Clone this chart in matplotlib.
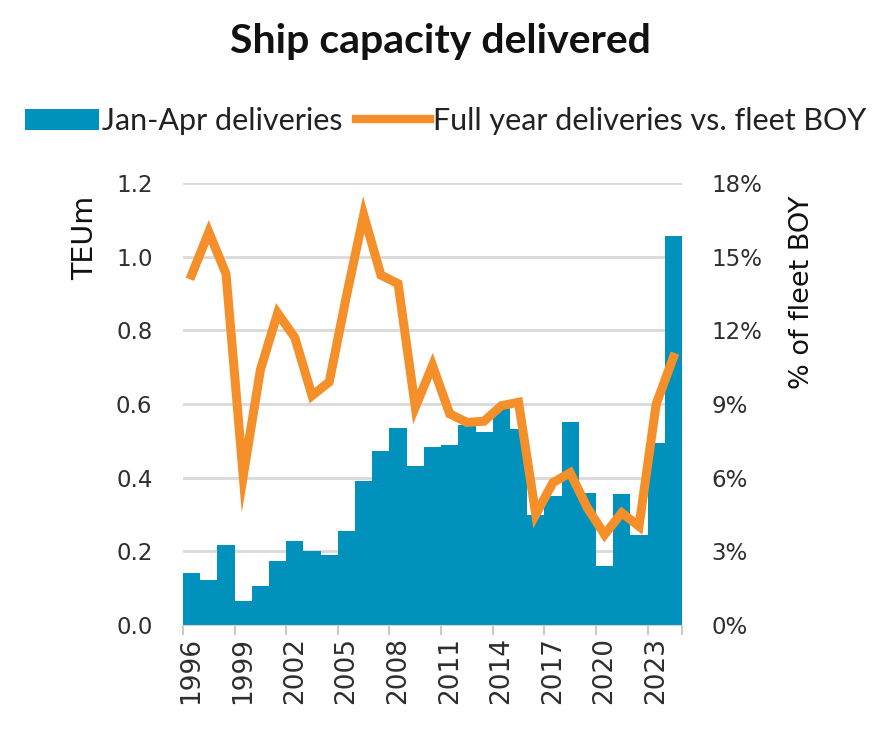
import matplotlib
matplotlib.use("Agg")
import matplotlib.pyplot as plt
from matplotlib import font_manager
from matplotlib.patches import Patch
from matplotlib.lines import Line2D

# data
years = list(range(1996, 2025))
jan_apr = [0.141, 0.123, 0.218, 0.064, 0.105, 0.173, 0.229, 0.200, 0.191, 0.255,
           0.391, 0.473, 0.536, 0.432, 0.484, 0.489, 0.544, 0.523, 0.591, 0.532,
           0.300, 0.350, 0.550, 0.359, 0.159, 0.355, 0.245, 0.495, 1.055]
full_year_pct = [14.25, 16.0, 14.3, 6.07, 10.4, 12.7, 11.7, 9.34, 9.9, 13.4,
                 16.7, 14.25, 13.9, 8.87, 10.57, 8.6, 8.25, 8.3, 8.93, 9.07,
                 4.5, 5.8, 6.2, 4.77, 3.68, 4.57, 4.02, 9.0, 10.9]
left_ticks = [0.0, 0.2, 0.4, 0.6, 0.8, 1.0, 1.2]
right_ticks = [0, 3, 6, 9, 12, 15, 18]

BLUE = "#0091BD"
ORANGE = "#F58F2A"
TXT = "#2E2E2E"


def has_font(name):
    try:
        font_manager.findfont(name, fallback_to_default=False)
        return True
    except Exception:
        return False


narrow = "Lato" if has_font("Lato") else "DejaVu Sans"
plt.rcParams["font.family"] = "DejaVu Sans"

fig = plt.figure(figsize=(8.89, 7.39), dpi=100)
ax = fig.add_axes([183 / 889, 1 - 625 / 739, 499 / 889, 442 / 739])
ax2 = ax.twinx()

x = list(range(len(years)))
ax.bar(x, jan_apr, width=1.0, color=BLUE, zorder=2)
ax2.plot(x, full_year_pct, color=ORANGE, lw=6.5, solid_joinstyle="miter", zorder=3)

ax.set_xlim(-0.5, len(years) - 0.5)
ax.set_ylim(0, 1.2)
ax2.set_ylim(0, 18)
ax.set_yticks(left_ticks)
ax.set_yticklabels([f"{v:.1f}" for v in left_ticks])
ax2.set_yticks(right_ticks)
ax2.set_yticklabels([f"{v}%" for v in right_ticks])

ax.yaxis.grid(True, color="#D9D9D9", lw=2)
ax.set_axisbelow(True)

lab_idx = [i for i in x if (years[i] - 1996) % 3 == 0]
ax.set_xticks(lab_idx)
ax.set_xticklabels([str(years[i]) for i in lab_idx], rotation=90)
ax.set_xticks([i - 0.5 for i in lab_idx] + [len(years) - 0.5], minor=True)
ax.tick_params(axis="x", which="major", length=0, pad=9, labelsize=19, labelcolor=TXT)
ax.tick_params(axis="x", which="minor", length=7, width=1.2, color="#BFBFBF")
ax.tick_params(axis="y", length=0, pad=22, labelsize=16.5, labelcolor=TXT)
ax2.tick_params(axis="y", length=0, pad=21, labelsize=16.5, labelcolor=TXT)

for a in (ax, ax2):
    for s in a.spines.values():
        s.set_visible(False)
ax.spines["bottom"].set_visible(True)
ax.spines["bottom"].set_color("#D0D0D0")

fig.text(85 / 889, 1 - 238 / 739, "TEUm", rotation=90, ha="center", va="center",
         fontsize=20.5, color="#111111")
fig.text(802 / 889, 1 - 292 / 739, "% of fleet BOY", rotation=90, ha="center",
         va="center", fontsize=19.5, color="#111111")

fig.text(440 / 889, 1 - 42 / 739, "Ship capacity delivered", ha="center", va="center",
         fontsize=29.5, fontweight="bold", family=narrow, color="#111111")

handles = [Patch(facecolor=BLUE), Line2D([0], [0], color=ORANGE, lw=6)]
fig.legend(handles, ["Jan-Apr deliveries", "Full year deliveries vs. fleet BOY"],
           loc="center", bbox_to_anchor=(446 / 889, 1 - 121 / 739), ncol=2,
           frameon=False, prop={"family": narrow, "size": 22}, handlelength=2.4,
           handletextpad=0.12, columnspacing=0.45, labelcolor="#222222")

fig.savefig("out.png", dpi=100)
